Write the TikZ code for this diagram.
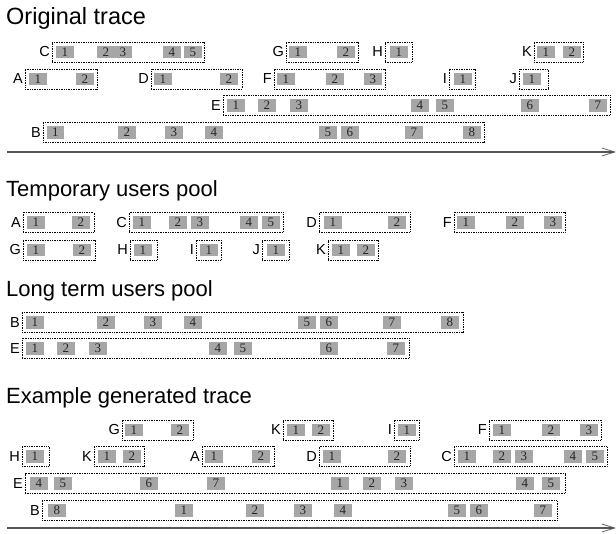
\documentclass[tikz,border=0pt]{standalone}
\usepackage{fontspec}
\setmainfont{Liberation Serif}
\setsansfont{Liberation Sans}
\usetikzlibrary{arrows.meta}
\definecolor{cellgray}{HTML}{A6A6A6}
\definecolor{axisgray}{HTML}{555555}
\tikzset{
  ubox/.style={draw=black, line width=0.85pt, dash pattern=on 0.85pt off 0.85pt,
    minimum height=20pt, inner sep=0pt, outer sep=0pt},
  cell/.style={fill=cellgray, minimum width=17.5pt, minimum height=12.5pt, inner sep=0pt,
    text=black!85, font=\rmfamily\fontsize{13}{13}\selectfont},
  lbl/.style={inner sep=0pt, font=\sffamily\fontsize{14.5}{15}\selectfont},
  ttl/.style={inner sep=0pt, font=\sffamily\fontsize{22}{26}\selectfont},
  axis/.style={draw=axisgray, line width=1.4pt,
    -{Straight Barb[length=13pt,width=8pt,line width=0.7pt]}},
}
% #1 name, #2 label, #3 left, #4 right, #5 y centre, #6 list x/digit
\newcommand\usr[6]{%
  \node[ubox, anchor=west, minimum width={(#4-#3)*1pt}] (#1) at (#3,#5) {};
  \node[lbl, anchor=east] (#1-l) at ([xshift=-2pt]#1.west) {#2};
  \foreach \cx/\d [count=\i] in {#6} {\node[cell, anchor=west] (#1-\i) at (\cx,#5) {\d};}
}
\begin{document}
\begin{tikzpicture}[x=1pt,y=-1pt]
\useasboundingbox (0,0) rectangle (616,534);
% ---------- Original trace ----------
\node[ttl, anchor=base west, font=\sffamily\fontsize{23.5}{26}\selectfont] (t1) at (6,25) {Original trace};
\usr{oC}{C}{52}{204}{52}{56/1,97/2,114/3,163/4,184/5}
\usr{oG}{G}{286}{358}{52}{289/1,337/2}
\usr{oH}{H}{385}{412}{52}{390/1}
\usr{oK}{K}{534}{583}{52}{537/1,563/2}
\usr{oA}{A}{25}{97}{79}{29/1,76/2}
\usr{oD}{D}{151}{242}{79}{154/1,220/2}
\usr{oF}{F}{274}{385}{79}{277/1,326/2,364/3}
\usr{oI}{I}{449}{475}{79}{454/1}
\usr{oJ}{J}{519}{548}{79}{523/1}
\usr{oE}{E}{223}{610}{105.5}{227/1,258/2,290/3,411/4,436/5,521/6,589/7}
\usr{oB}{B}{43}{484}{132.5}{46.5/1,118/2,165/3,205/4,319/5,341/6,405/7,463/8}
\coordinate (a1s) at (7,152);
\coordinate (a1e) at (616,152);
\draw[axis] (a1s) -- (a1e);
% ---------- Temporary users pool ----------
\node[ttl, anchor=base west] (t2) at (6,197) {Temporary users pool};
\usr{tA}{A}{23}{94}{222.5}{27/1,72/2}
\usr{tC}{C}{129}{283}{222.5}{133/1,169/2,191/3,240/4,262/5}
\usr{tD}{D}{319}{410}{222.5}{324/1,388/2}
\usr{tF}{F}{454}{565}{222.5}{457/1,506/2,544/3}
\usr{tG}{G}{23}{95}{250}{27/1,73/2}
\usr{tH}{H}{130}{157}{250}{134/1}
\usr{tI}{I}{196}{221}{250}{200/1}
\usr{tJ}{J}{262}{289}{250}{267/1}
\usr{tK}{K}{328}{378}{250}{332/1,357/2}
% ---------- Long term users pool ----------
\node[ttl, anchor=base west] (t3) at (6,297) {Long term users pool};
\usr{lB}{B}{22}{463}{322.5}{26/1,97/2,144/3,184/4,298/5,320/6,383/7,441/8}
\usr{lE}{E}{22}{409}{348.5}{26/1,57/2,89/3,209/4,234/5,320/6,387/7}
% ---------- Example generated trace ----------
\node[ttl, anchor=base west] (t4) at (6,404) {Example generated trace};
\usr{gG}{G}{122}{193}{430}{125/1,171/2}
\usr{gK}{K}{283}{333}{430}{287/1,312/2}
\usr{gI}{I}{394}{419}{430}{398/1}
\usr{gF}{F}{489}{601}{430}{493/1,542/2,580/3}
\usr{gH}{H}{22}{49}{456.5}{26/1}
\usr{gKb}{K}{94}{144}{456.5}{98/1,123/2}
\usr{gA}{A}{202}{274}{456.5}{205/1,252/2}
\usr{gD}{D}{319}{410}{456.5}{323/1,388/2}
\usr{gC}{C}{454}{607}{456.5}{458/1,493/2,515/3,564/4,586/5}
\usr{gE}{E}{25}{565}{483.5}{30/4,54/5,140/6,207/7,331/1,363/2,395/3,516/4,542/5}
\usr{gB}{B}{42}{557}{510.5}{48/8,175/1,246/2,294/3,334/4,448/5,470/6,534/7}
\coordinate (a2s) at (7,528);
\coordinate (a2e) at (616,528);
\draw[axis] (a2s) -- (a2e);
\end{tikzpicture}
\end{document}
